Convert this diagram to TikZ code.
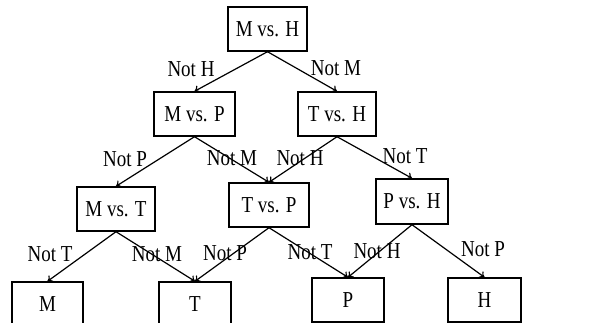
\documentclass[tikz,border=0pt]{standalone}
\usepackage{fontspec}
\setmainfont{Liberation Serif}
\usetikzlibrary{arrows.meta}
% slightly tall lettering
\newcommand{\tall}[1]{\scalebox{1}[1.2]{#1}}
\begin{document}
\begin{tikzpicture}[x=1pt,y=-1pt,
  box/.style={draw, line width=1.4pt, inner sep=0pt, minimum height=44pt,
    font=\fontsize{19}{22}\selectfont},
  arr/.style={line width=1.2pt, -{To[length=5pt,width=8pt]}},
  lbl/.style={inner sep=0pt, font=\fontsize{19}{22}\selectfont}]
\useasboundingbox (0,0) rectangle (614,322);
\clip (0,0) rectangle (614,322);
% decision tree nodes
\node[box, minimum width=79pt] (mh) at (267.5,29) {\tall{M vs. H}};
\node[box, minimum width=81pt] (mp) at (194.5,114) {\tall{M vs. P}};
\node[box, minimum width=78pt] (th) at (337,114) {\tall{T vs. H}};
\node[box, minimum width=78pt] (mt) at (116,209) {\tall{M vs. T}};
\node[box, minimum width=80pt] (tp) at (269,205) {\tall{T vs. P}};
\node[box, minimum width=72pt, minimum height=45pt] (ph) at (412,201.5) {\tall{P vs. H}};
\node[box, minimum width=71pt] (m) at (47.5,304) {\tall{M}};
\node[box, minimum width=72pt] (t) at (195,304) {\tall{T}};
\node[box, minimum width=72pt] (p) at (348,300) {\tall{P}};
\node[box, minimum width=73pt] (h) at (484.5,300) {\tall{H}};
% connectors
\draw[arr] (mh.south) -- (mp.north);
\draw[arr] (mh.south) -- (th.north);
\draw[arr] (mp.south) -- (mt.north);
\draw[arr] (mp.south) -- (tp.north);
\draw[arr] (th.south) -- (tp.north);
\draw[arr] (th.south) -- (ph.north);
\draw[arr] (mt.south) -- (m.north);
\draw[arr] (mt.south) -- (t.north);
\draw[arr] (tp.south) -- (t.north);
\draw[arr] (tp.south) -- (p.north);
\draw[arr] (ph.south) -- (p.north);
\draw[arr] (ph.south) -- (h.north);
% branch labels
\node[lbl] (l1) at (191,69) {\tall{Not H}};
\node[lbl] (l2) at (336,68) {\tall{Not M}};
\node[lbl] (l3) at (125,159) {\tall{Not P}};
\node[lbl] (l4) at (232,158) {\tall{Not M}};
\node[lbl] (l5) at (300,158) {\tall{Not H}};
\node[lbl] (l6) at (405,156) {\tall{Not T}};
\node[lbl] (l7) at (50,254) {\tall{Not T}};
\node[lbl] (l8) at (157,254) {\tall{Not M}};
\node[lbl] (l9) at (225,253) {\tall{Not P}};
\node[lbl] (l10) at (310,252) {\tall{Not T}};
\node[lbl] (l11) at (377,251) {\tall{Not H}};
\node[lbl] (l12) at (483,249) {\tall{Not P}};
\end{tikzpicture}
\end{document}
